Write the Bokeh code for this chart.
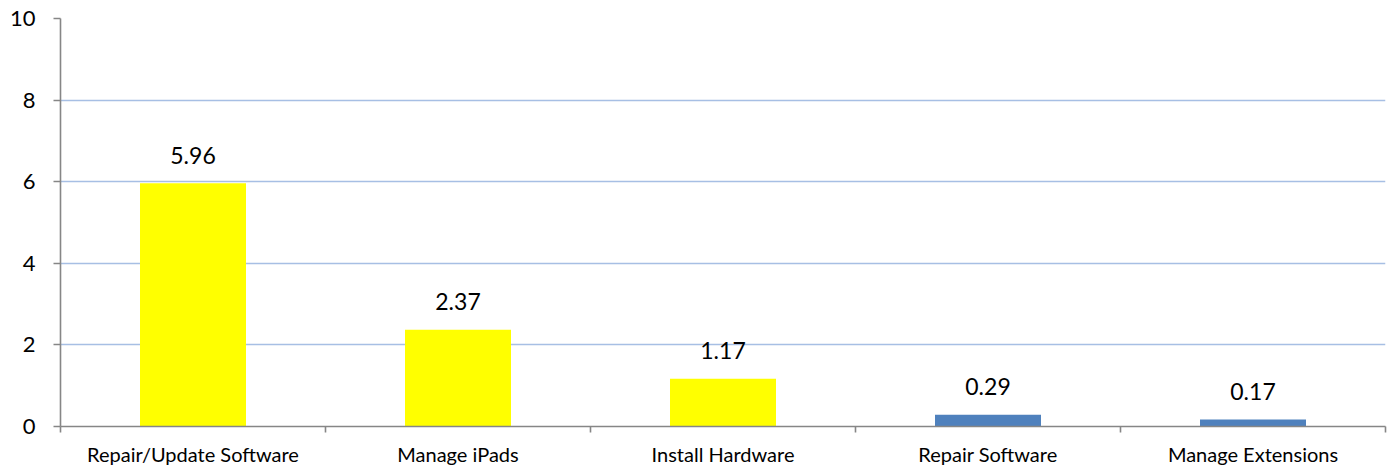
from bokeh.plotting import figure
from bokeh.models import ColumnDataSource, Range1d, FixedTicker
from bokeh.embed import file_html
from bokeh.resources import INLINE
from bokeh.core.properties import value

categories = ["Repair/Update Software", "Manage iPads", "Install Hardware", "Repair Software", "Manage Extensions"]
values = [5.96, 2.37, 1.17, 0.29, 0.17]
colors = ["#FFFF00", "#FFFF00", "#FFFF00", "#4F81BD", "#4F81BD"]
labels = ["5.96", "2.37", "1.17", "0.29", "0.17"]
y_ticks = [0, 2, 4, 6, 8, 10]

FONT = "Lato"
xs = [i + 0.5 for i in range(len(categories))]
src = ColumnDataSource(dict(x=xs, top=values, color=colors, label=labels))

p = figure(width=1392, height=468, output_backend="svg", toolbar_location=None,
           x_range=Range1d(0, len(categories)), y_range=Range1d(0, 10),
           min_border_left=60, min_border_top=18, min_border_bottom=41, min_border_right=7)
p.outline_line_color = None
p.background_fill_color = "white"

p.vbar(x="x", top="top", bottom=0, width=0.4, fill_color="color", line_color=None, source=src)
p.text(x="x", y="top", text="label", source=src, text_align="center", text_baseline="alphabetic",
       y_offset=-28, text_font=value(FONT), text_font_size="23px", text_color="black")

p.xgrid.grid_line_color = None
p.ygrid.grid_line_color = "#A7BFE4"
p.ygrid.grid_line_width = 1.3
p.yaxis.ticker = FixedTicker(ticks=y_ticks)
p.xaxis.ticker = FixedTicker(ticks=xs, minor_ticks=list(range(len(categories) + 1)))
p.xaxis.major_label_overrides = {x: c for x, c in zip(xs, categories)}

for ax in (p.xaxis, p.yaxis):
    ax.axis_line_color = "#868686"
    ax.axis_line_width = 1.6
    ax.major_label_text_font = FONT
    ax.major_label_text_color = "black"

p.xaxis.major_tick_line_color = None
p.xaxis.major_tick_out = 0
p.xaxis.major_tick_in = 0
p.xaxis.minor_tick_line_color = "#868686"
p.xaxis.minor_tick_line_width = 1.6
p.xaxis.minor_tick_out = 6
p.xaxis.minor_tick_in = 0
p.xaxis.major_label_text_font_size = "20px"
p.xaxis.major_label_standoff = 9

p.yaxis.major_tick_line_color = "#868686"
p.yaxis.major_tick_line_width = 1.6
p.yaxis.major_tick_out = 7
p.yaxis.major_tick_in = 0
p.yaxis.minor_tick_line_color = None
p.yaxis.major_label_text_font_size = "22px"
p.yaxis.major_label_standoff = 18

open("out.html", "w").write(file_html(p, INLINE))
